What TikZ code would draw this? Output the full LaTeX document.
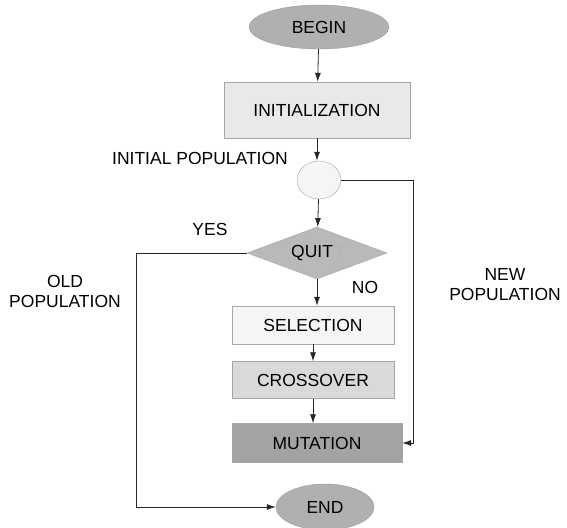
\documentclass[tikz,border=0pt]{standalone}
\usepackage{fontspec}
\setmainfont{Liberation Sans}
\usetikzlibrary{shapes,arrows,arrows.meta,positioning}

\begin{document}
\begin{tikzpicture}[x=1pt, y=-1pt, auto, >={Latex[length=9pt,width=6pt]}, font=\fontsize{17.5}{20}\selectfont]
  \tikzstyle{stepbox} = [draw=gray!70, rectangle, inner sep=0pt]
  \tikzstyle{term} = [draw=gray!80, ellipse, fill=gray!62, inner sep=0pt]
  \tikzstyle{link} = [draw=black!85, line width=0.8pt]
  \useasboundingbox (0,0) rectangle (567,527);
  \node[term, minimum width=140pt, minimum height=44pt] (begin) at (319,27) {BEGIN};
  \node[stepbox, fill=gray!17, minimum width=186pt, minimum height=56pt] (init) at (317,110) {INITIALIZATION};
  \node[draw=gray!70, ellipse, fill=gray!8, minimum width=44pt, minimum height=38pt] (pop) at (319,180) {};
  \node[draw=gray!70, diamond, aspect=2.7, fill=gray!55, inner sep=0pt, minimum width=140pt, minimum height=52pt] (quit) at (317,253) {QUIT\textcolor{gray!60}{?}};
  \node[stepbox, fill=gray!8, minimum width=162pt, minimum height=38pt] (sel) at (313,325) {SELECTION};
  \node[stepbox, fill=gray!30, minimum width=162pt, minimum height=37pt] (cross) at (313,380) {CROSSOVER};
  \node[stepbox, fill=gray!72, minimum width=170pt, minimum height=39pt] (mut) at (317,443) {MUTATION};
  \node[term, minimum width=98pt, minimum height=46pt] (end) at (325,507) {END};
  \coordinate (newcorner) at (413,180);
  \coordinate (oldcorner) at (136,253);
  % labels
  \node (initlbl) at (200,158) {INITIAL POPULATION};
  \node (yeslbl) at (210,229) {YES};
  \node (nolbl) at (365,287) {NO};
  \node[align=center] (oldlbl) at (65,291) {OLD\\POPULATION};
  \node[align=center] (newlbl) at (505,285) {NEW\\POPULATION};
  % connectors
  \draw[link, ->] (begin) -- (init);
  \draw[link, ->] (init) -- (init |- pop.north);
  \draw[link, ->] (pop) -- (quit);
  \draw[link, ->] (quit.south) -- (quit.south |- sel.north);
  \draw[link, ->] (sel.south -| cross.north) -- (cross);
  \draw[link, ->] (cross) -- (cross |- mut.north);
  \draw[link, ->] (pop.east) -- (newcorner) |- (mut.east);
  \draw[link, ->] (quit.west) -- (oldcorner) |- (end.west);
\end{tikzpicture}
\end{document}
